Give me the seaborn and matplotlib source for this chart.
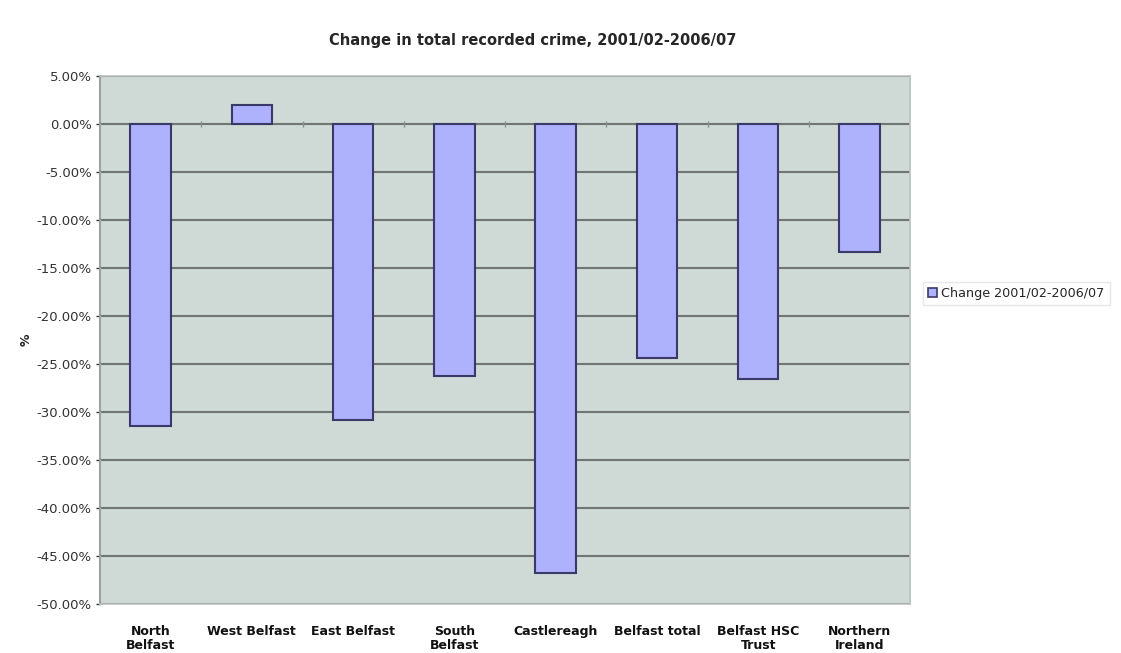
import matplotlib
matplotlib.use("Agg")
import matplotlib.pyplot as plt
from matplotlib.ticker import FuncFormatter, MultipleLocator
from matplotlib.patches import Patch
import seaborn as sns
import pandas as pd

# Areas and the percentage change in total recorded crime
areas = ["North\nBelfast", "West Belfast", "East Belfast", "South\nBelfast",
         "Castlereagh", "Belfast total", "Belfast HSC\nTrust", "Northern\nIreland"]
change_pct = [-31.5, 2.0, -30.8, -26.25, -46.8, -24.4, -26.6, -13.3]
series_name = "Change 2001/02-2006/07"

df = pd.DataFrame({"area": areas, "change": change_pct, "series": series_name})

sns.set_theme(style="white")
plt.rcParams["font.family"] = ["DejaVu Sans"]

fig = plt.figure(figsize=(11.21, 6.53), dpi=100)
ax = fig.add_axes([0.0892, 0.075, 0.7226, 0.8086])

plot_bg = "#cfdad6"
bar_face = "#aeb1fb"
bar_edge = "#3a3a6a"
grid_col = "#6f7674"

ax.set_facecolor(plot_bg)

sns.barplot(data=df, x="area", y="change", hue="series", palette=[bar_face],
            width=0.4, edgecolor=bar_edge, linewidth=1.5, saturation=1,
            legend=False, ax=ax, zorder=3)

ax.set_ylim(-50, 5)
ax.set_xlim(-0.5, len(areas) - 0.5)
ax.yaxis.set_major_locator(MultipleLocator(5))
ax.yaxis.set_major_formatter(FuncFormatter(lambda v, _: f"{v:.2f}%"))
ax.grid(axis="y", color=grid_col, linewidth=1.5, zorder=1)
ax.set_axisbelow(True)

# small category-boundary ticks on the zero line
bounds = [i + 0.5 for i in range(len(areas) - 1)]
ax.plot(bounds, [0] * len(bounds), linestyle="none", marker="|",
        markersize=4, color="#8a908e", zorder=2)

for side in ["top", "right", "bottom"]:
    ax.spines[side].set_color("#b9c0be")
    ax.spines[side].set_linewidth(1.2)
ax.spines["left"].set_color("#9aa19f")
ax.spines["left"].set_linewidth(1.5)

ax.tick_params(axis="y", labelsize=9.5, colors="#333333", length=3, width=1,
               left=True, pad=3)
ax.tick_params(axis="x", labelsize=9, length=0, pad=15)
for lbl in ax.get_xticklabels():
    lbl.set_fontweight("bold")
    lbl.set_color("#111111")
    lbl.set_linespacing(1.15)

ax.set_xlabel("")
ax.set_ylabel("%", fontsize=9, fontweight="bold", labelpad=3)

fig.suptitle("Change in total recorded crime, 2001/02-2006/07",
             fontsize=10.5, fontweight="bold", y=0.95, x=0.475)

handles = [Patch(facecolor=bar_face, edgecolor=bar_edge, linewidth=1.2,
                 label=series_name)]
fig.legend(handles=handles, loc="center left", bbox_to_anchor=(0.818, 0.55),
           fontsize=9.2, frameon=True, fancybox=False, edgecolor="#e2e2e2",
           handlelength=0.7, handleheight=0.7, handletextpad=0.3,
           borderpad=0.4)

fig.savefig("out.png", dpi=100, facecolor="white")
